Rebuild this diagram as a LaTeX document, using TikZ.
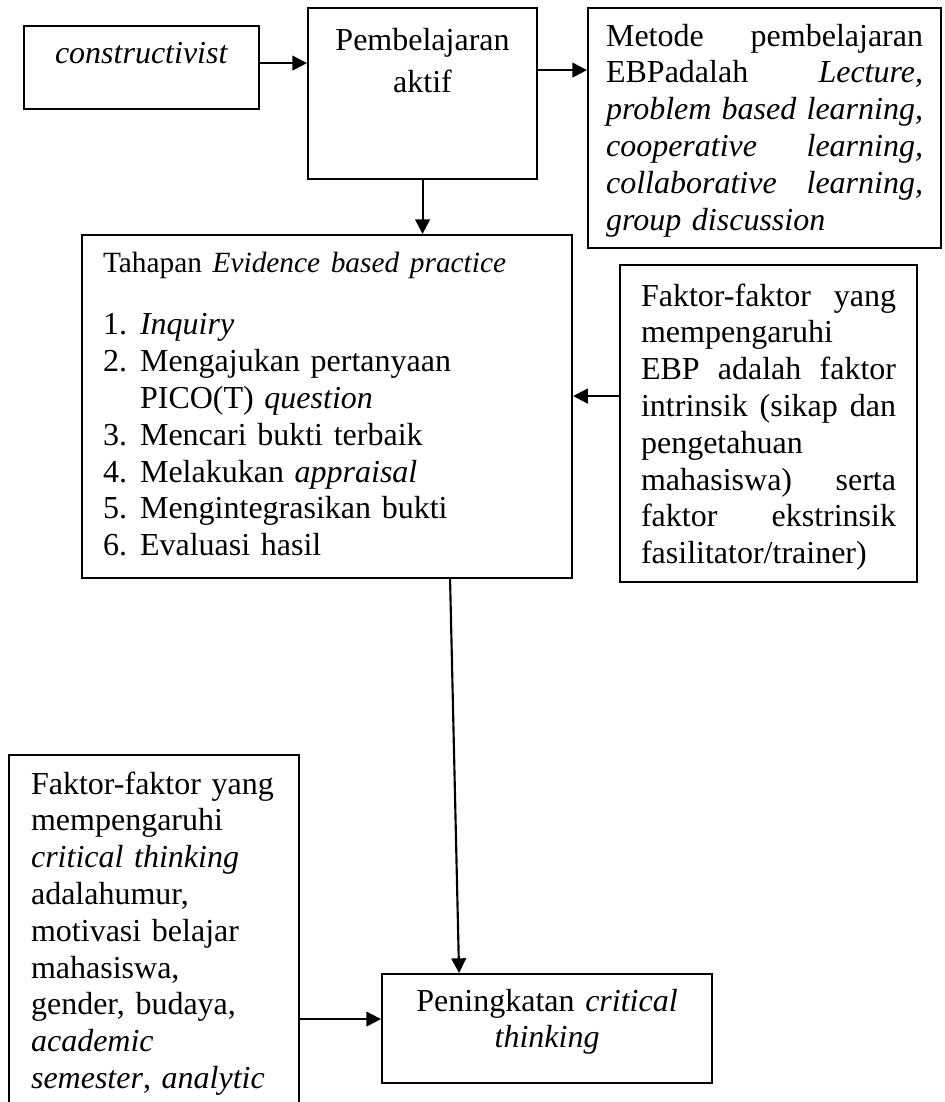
\documentclass[tikz,border=0pt]{standalone}
\usepackage{fontspec}
\setmainfont{Liberation Serif}
\usetikzlibrary{arrows.meta}
\newlength{\pxl}
\setlength{\pxl}{0.375pt}

\begin{document}
\begin{tikzpicture}[x=0.375pt, y=-0.375pt]
  \tikzstyle{box} = [rectangle, draw, line width=0.8pt, anchor=north west, inner ysep=0pt, font=\fontsize{12}{13.8}\selectfont]
  \tikzstyle{arrow} = [line width=0.8pt, -{Triangle[length=5.5pt, width=5.5pt]}]

  \useasboundingbox (0,0) rectangle (945,1102);
  \clip (0,0) rectangle (945,1102);

  % Top row
  \node [box, text width=215\pxl, inner xsep=10\pxl, align=center, text height=37\pxl, text depth=46\pxl] (cons) at (23,25) {\textit{constructivist}};
  \node [box, text width=209\pxl, inner xsep=10\pxl, align=center, text height=42\pxl, text depth=129\pxl, font=\fontsize{12}{15.75}\selectfont] (aktif) at (307,7) {Pembelajaran\\ aktif};
  \node [box, text width=317\pxl, inner xsep=18\pxl, align=left, text height=38\pxl, text depth=202\pxl] (metode) at (587,7) {Metode\hfill pembelajaran\\ EBPadalah\hfill \textit{Lecture,}\\ \textit{problem\hfill based\hfill learning,}\\ \textit{cooperative\hfill learning,}\\ \textit{collaborative\hfill learning,}\\ \textit{group discussion}};

  % Middle row
  \node [box, text width=448\pxl, inner xsep=21\pxl, align=left, text height=37\pxl, text depth=306\pxl] (tahapan) at (81,234) {{\fontsize{11}{13.8}\selectfont Tahapan \textit{Evidence based practice}}\\[26\pxl]
    \makebox[37\pxl][l]{1.}\textit{Inquiry}\\
    \makebox[37\pxl][l]{2.}Mengajukan pertanyaan\\
    \hspace*{37\pxl}PICO(T) \textit{question}\\
    \makebox[37\pxl][l]{3.}Mencari bukti terbaik\\
    \makebox[37\pxl][l]{4.}Melakukan \textit{appraisal}\\
    \makebox[37\pxl][l]{5.}Mengintegrasikan bukti\\
    \makebox[37\pxl][l]{6.}Evaluasi hasil};
  \node [box, text width=255\pxl, inner xsep=21\pxl, align=left, text height=41\pxl, text depth=276\pxl] (faktorebp) at (619,264) {Faktor-faktor\hfill yang\\ mempengaruhi\\ EBP\hfill adalah\hfill faktor\\ intrinsik\hfill (sikap\hfill dan\\ pengetahuan\\ mahasiswa)\hfill serta\\ faktor\hfill ekstrinsik\\ fasilitator/trainer)};

  % Bottom row
  \node [box, text width=246\pxl, inner xsep=22\pxl, align=left, text height=39\pxl, text depth=337\pxl] (faktorct) at (8,754) {Faktor-faktor yang\\ mempengaruhi\\ \textit{critical thinking}\\ adalahumur,\\ motivasi belajar\\ mahasiswa,\\ gender, budaya,\\ \textit{academic}\\ \textit{semester}, \textit{analytic}};
  \node [box, text width=310\pxl, inner xsep=10\pxl, align=center, text height=37\pxl, text depth=72\pxl] (hasil) at (381,973) {Peningkatan \textit{critical}\\ \textit{thinking}};

  % Arrows
  \coordinate (c1) at ([shift={(0,-4.5)}]cons.east);
  \coordinate (a1) at ([shift={(0,-23.5)}]aktif.east);
  \coordinate (f1) at ([shift={(0,-27.5)}]faktorebp.west);
  \coordinate (h1) at ([shift={(0,-9.5)}]hasil.west);
  \draw [arrow] (c1) -- (c1 -| aktif.west);
  \draw [arrow] (a1) -- (a1 -| metode.west);
  \draw [arrow] (aktif.south) -- (aktif.south |- tahapan.north);
  \draw [arrow] (f1) -- (f1 -| tahapan.east);
  \draw [arrow] ([shift={(123,0)}]tahapan.south) -- ([shift={(-88,0)}]hasil.north);
  \draw [arrow] (h1 -| faktorct.east) -- (h1);
\end{tikzpicture}
\end{document}
